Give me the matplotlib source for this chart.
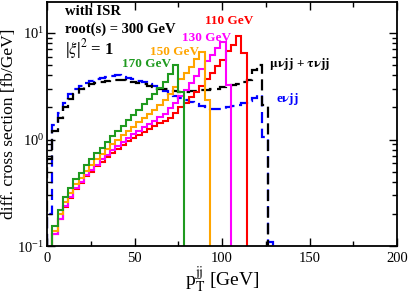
import numpy as np
import matplotlib
matplotlib.use('Agg')
import matplotlib.pyplot as plt
from matplotlib.ticker import MultipleLocator, LogLocator, NullFormatter

plt.rcParams['font.family'] = ['Liberation Serif', 'DejaVu Serif']
plt.rcParams['mathtext.fontset'] = 'stix'

bin_width = 3.0

# e nu jj (blue dashed), starts at 0 GeV
e_start = 0
e_vals = [0.2, 1.37, 1.76, 2.2, 2.7, 3.0, 3.2, 3.4, 3.55, 3.7, 3.8, 3.9, 3.95, 4.0,
          3.9, 3.8, 3.7, 3.55, 3.45, 3.3, 3.15, 3.0, 2.85, 2.7, 2.55, 2.45, 2.35,
          2.25, 2.15, 2.05, 2.0, 1.95, 1.95, 1.95, 2.0, 2.05, 2.1, 2.2, 2.3, 2.45,
          2.6, 1.05, 0.11]

# mu nu jj + tau nu jj (black dashed)
mu_start = 0
mu_vals = [0.65, 1.2, 1.6, 2.0, 2.4, 2.7, 2.95, 3.15, 3.3, 3.4, 3.5, 3.55, 3.6, 3.6,
           3.6, 3.55, 3.5, 3.4, 3.3, 3.2, 3.1, 3.0, 2.95, 2.9, 2.85, 2.8, 2.8, 2.85,
           2.85, 2.9, 2.9, 2.95, 3.0, 3.1, 3.2, 3.25, 3.35, 3.5, 3.65, 4.5, 5.0, 2.1]

# signals, all start at 3 GeV
sig_start = 3
m110 = [0.13, 0.18, 0.235, 0.285, 0.34, 0.39, 0.45, 0.5, 0.56, 0.62, 0.68, 0.75,
        0.82, 0.89, 0.96, 1.03, 1.1, 1.18, 1.26, 1.35, 1.44, 1.5, 1.58, 1.79, 2.0,
        2.2, 2.5, 2.8, 3.2, 3.7, 4.2, 4.9, 5.6, 6.7, 7.7, 9.45, 6.45]
m130 = [0.13, 0.18, 0.24, 0.29, 0.35, 0.4, 0.46, 0.52, 0.58, 0.65, 0.72, 0.79,
        0.87, 0.95, 1.03, 1.12, 1.2, 1.3, 1.4, 1.5, 1.62, 1.74, 1.96, 2.2, 2.56,
        2.9, 3.4, 3.95, 4.6, 5.4, 6.2, 7.2, 8.3, 3.25]
m150 = [0.14, 0.2, 0.26, 0.315, 0.38, 0.435, 0.51, 0.58, 0.65, 0.73, 0.81, 0.9,
        1.0, 1.1, 1.2, 1.32, 1.45, 1.58, 1.72, 1.9, 2.1, 2.35, 2.7, 3.1, 3.7, 4.2,
        4.8, 5.66, 6.6, 2.35]
m170 = [0.155, 0.218, 0.286, 0.348, 0.423, 0.482, 0.577, 0.65, 0.74, 0.84, 0.95,
        1.07, 1.2, 1.35, 1.52, 1.7, 1.9, 2.15, 2.4, 2.7, 3.05, 3.5, 4.1, 5.0, 2.8]


def edges(start, vals):
    return start + bin_width * np.arange(len(vals) + 1)


fig = plt.figure(figsize=(4.09, 2.94), dpi=100)
ax = fig.add_axes([0.115, 0.163, 0.856, 0.830])

ax.stairs(e_vals, edges(e_start, e_vals), baseline=1e-4, color='#0000ff', lw=1.6,
          linestyle=(0, (5, 2.5)))
ax.stairs(mu_vals, edges(mu_start, mu_vals), baseline=1e-4, color='black', lw=1.6,
          linestyle=(0, (5, 2.5)))
ax.stairs(m110, edges(sig_start, m110), baseline=1e-4, color='#ff0000', lw=1.5)
ax.stairs(m130, edges(sig_start, m130), baseline=1e-4, color='#ff00ff', lw=1.5)
ax.stairs(m150, edges(sig_start, m150), baseline=1e-4, color='#ffa500', lw=1.5)
ax.stairs(m170, edges(sig_start, m170), baseline=1e-4, color='#1f9a1f', lw=1.5)

ax.set_yscale('log')
ax.set_xlim(0, 200)
ax.set_ylim(0.1, 19.5)
ax.xaxis.set_major_locator(MultipleLocator(50))
ax.xaxis.set_minor_locator(MultipleLocator(25))
ax.yaxis.set_major_locator(LogLocator(base=10))
ax.yaxis.set_minor_locator(LogLocator(base=10, subs=np.arange(2, 10)))
ax.yaxis.set_minor_formatter(NullFormatter())
ax.tick_params(which='both', direction='in', top=True, right=True, labelsize=10.5, pad=4)
ax.tick_params(axis='y', pad=2)
ax.tick_params(which='major', length=6, width=1)
ax.tick_params(which='minor', length=3.5, width=1)
for s in ax.spines.values():
    s.set_linewidth(1.3)

ax.set_xlabel(r'p$_\mathrm{T}^{\mathrm{jj}}$ [GeV]', fontsize=14, labelpad=1)
ax.set_ylabel('diff. cross section [fb/GeV]', fontsize=12.5, labelpad=0)

bold = dict(fontweight='bold', fontsize=10.5, transform=ax.transAxes)
small = dict(bold, fontsize=9.5)
ax.text(0.052, 0.945, 'with ISR', **bold)
ax.text(0.052, 0.875, 'root(s) = 300 GeV', **bold)
ax.text(0.052, 0.785, r'|$\xi$|$^2$ = 1', **dict(bold, fontsize=12))
ax.text(0.215, 0.735, '170 GeV', color='#1f9a1f', **small)
ax.text(0.295, 0.785, '150 GeV', color='#ffa500', **small)
ax.text(0.385, 0.84, '130 GeV', color='#ff00ff', **small)
ax.text(0.45, 0.91, '110 GeV', color='#ff0000', **small)
ax.text(0.635, 0.735, r'$\mathbf{\mu\nu}$jj + $\mathbf{\tau\nu}$jj', color='black', **small)
ax.text(0.655, 0.59, r'e$\mathbf{\nu}$jj', color='#0000ff', **small)

fig.savefig('out.png', dpi=100)
